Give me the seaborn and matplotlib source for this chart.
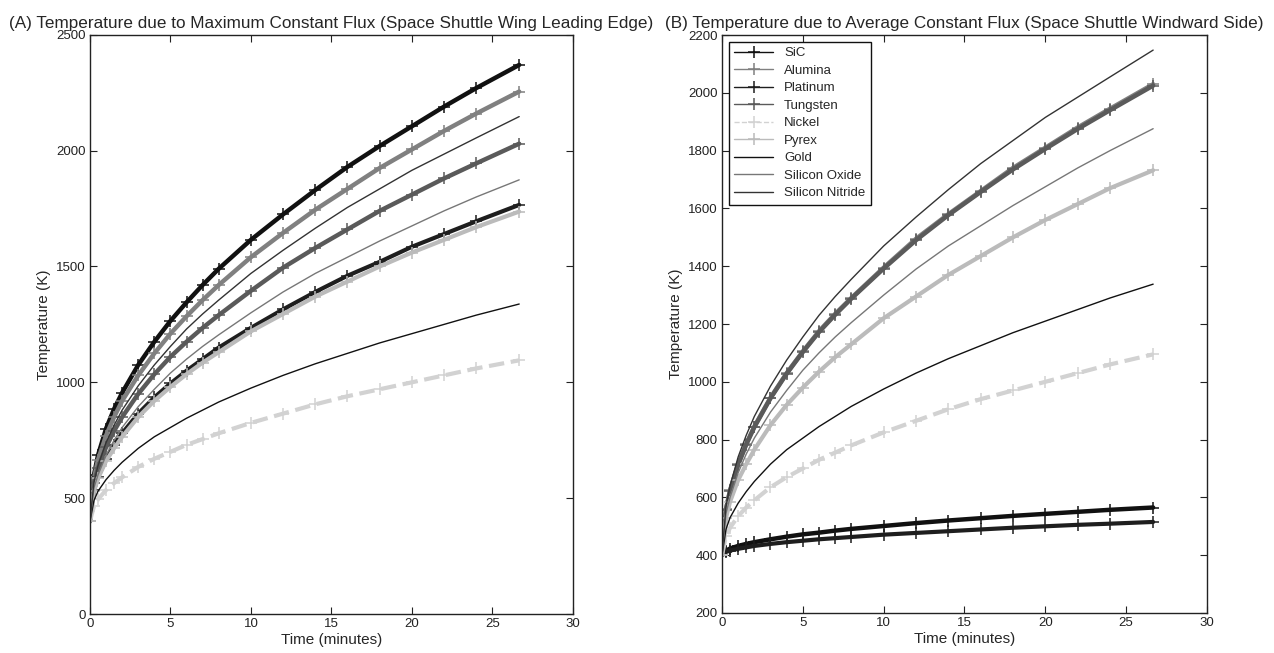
import matplotlib
matplotlib.use("Agg")
import matplotlib.pyplot as plt
import pandas as pd
import seaborn as sns

time_min = [0, 0.25, 0.5, 1, 1.5, 2, 3, 4, 5, 6, 7, 8, 10, 12, 14, 16, 18, 20,
            22, 24, 26.67]

materials = ["SiC", "Alumina", "Platinum", "Tungsten", "Nickel", "Pyrex",
             "Gold", "Silicon Oxide", "Silicon Nitride"]

# (A) maximum constant flux, temperature (K)
max_sic = [400, 600, 685, 800, 885, 955, 1075, 1175, 1265, 1345, 1420, 1490,
           1615, 1725, 1830, 1930, 2020, 2105, 2190, 2270, 2370]
max_alumina = [400, 585, 665, 770, 850, 920, 1030, 1125, 1210, 1285, 1355,
               1420, 1540, 1645, 1745, 1835, 1925, 2005, 2085, 2160, 2255]
max_platinum = [400, 535, 590, 670, 730, 780, 865, 935, 995, 1050, 1100, 1150,
                1235, 1315, 1390, 1460, 1520, 1585, 1640, 1695, 1766]
max_tungsten = [400, 565, 630, 720, 790, 850, 950, 1035, 1110, 1175, 1235,
                1290, 1395, 1495, 1580, 1660, 1740, 1810, 1880, 1945, 2030]
max_nickel = [400, 465, 495, 535, 565, 590, 635, 670, 700, 730, 755, 780, 825,
              865, 905, 940, 970, 1000, 1030, 1060, 1095]
max_pyrex = [400, 530, 585, 660, 715, 765, 850, 920, 980, 1035, 1085, 1130,
             1220, 1295, 1370, 1435, 1500, 1560, 1615, 1670, 1737]
max_gold = [400, 490, 530, 580, 620, 655, 715, 765, 805, 845, 880, 915, 975,
            1030, 1080, 1125, 1170, 1210, 1250, 1290, 1338]
max_sio = [400, 545, 600, 685, 750, 805, 895, 970, 1040, 1100, 1155, 1205,
           1300, 1390, 1470, 1540, 1610, 1675, 1740, 1800, 1874]
max_sin = [400, 570, 640, 740, 815, 880, 985, 1075, 1155, 1230, 1295, 1355,
           1470, 1570, 1665, 1755, 1835, 1915, 1985, 2055, 2147]

# (B) average constant flux, temperature (K)
avg_sic = [400, 416, 423, 432, 439, 445, 455, 464, 472, 478, 485, 491, 501,
           511, 520, 528, 536, 543, 550, 557, 565]
avg_alumina = [400, 560, 625, 715, 785, 845, 945, 1030, 1105, 1175, 1235,
               1290, 1395, 1495, 1580, 1660, 1740, 1810, 1880, 1945, 2030]
avg_platinum = [400, 411, 416, 422, 427, 432, 439, 445, 450, 455, 459, 463,
                471, 477, 483, 489, 495, 500, 505, 509, 515]
avg_tungsten = [400, 558, 623, 713, 783, 843, 943, 1028, 1103, 1172, 1232,
                1288, 1392, 1490, 1577, 1657, 1735, 1806, 1875, 1940, 2025]
avg_nickel = [400, 465, 495, 535, 565, 590, 635, 670, 700, 730, 755, 780, 825,
              865, 905, 940, 970, 1000, 1030, 1060, 1095]
avg_pyrex = [400, 530, 585, 660, 715, 765, 850, 920, 980, 1035, 1085, 1130,
             1220, 1295, 1370, 1435, 1500, 1560, 1615, 1670, 1732]
avg_gold = [400, 490, 530, 580, 620, 655, 715, 765, 805, 845, 880, 915, 975,
            1030, 1080, 1125, 1170, 1210, 1250, 1290, 1338]
avg_sio = [400, 545, 600, 685, 750, 805, 895, 970, 1040, 1100, 1155, 1205,
           1300, 1390, 1470, 1540, 1610, 1675, 1740, 1800, 1876]
avg_sin = [400, 570, 640, 740, 815, 880, 985, 1075, 1155, 1230, 1295, 1355,
           1470, 1570, 1665, 1755, 1835, 1915, 1985, 2055, 2148]

max_series = [max_sic, max_alumina, max_platinum, max_tungsten, max_nickel,
              max_pyrex, max_gold, max_sio, max_sin]
avg_series = [avg_sic, avg_alumina, avg_platinum, avg_tungsten, avg_nickel,
              avg_pyrex, avg_gold, avg_sio, avg_sin]

# line styles, in the order of the materials list
styles = {
    "SiC": dict(color="#111111", marker="+", lw=3.2, ls="-"),
    "Alumina": dict(color="#808080", marker="+", lw=3.2, ls="-"),
    "Platinum": dict(color="#1e1e1e", marker="+", lw=3.0, ls="-"),
    "Tungsten": dict(color="#5a5a5a", marker="+", lw=3.2, ls="-"),
    "Nickel": dict(color="#d2d2d2", marker="+", lw=3.0, ls="--"),
    "Pyrex": dict(color="#bbbbbb", marker="+", lw=3.0, ls="-"),
    "Gold": dict(color="#111111", marker=None, lw=1.0, ls="-"),
    "Silicon Oxide": dict(color="#777777", marker=None, lw=1.0, ls="-"),
    "Silicon Nitride": dict(color="#333333", marker=None, lw=1.0, ls="-"),
}

sns.set_theme(style="white")
plt.rcParams["font.family"] = ["Liberation Sans", "DejaVu Sans"]
plt.rcParams.update({
    "xtick.direction": "in",
    "ytick.direction": "in",
    "xtick.top": True,
    "ytick.right": True,
    "xtick.major.size": 5,
    "ytick.major.size": 5,
    "xtick.major.width": 0.8,
    "ytick.major.width": 0.8,
    "xtick.bottom": True,
    "ytick.left": True,
})

fig = plt.figure(figsize=(12.74, 6.53), dpi=100)
ax1 = fig.add_axes([0.0706, 0.0597, 0.379, 0.887])
ax2 = fig.add_axes([0.5667, 0.0613, 0.3807, 0.885])


def draw_panel(ax, series, title, ylim, yticks):
    for name, values in zip(materials, series):
        st = styles[name]
        df = pd.DataFrame({"t": time_min, "T": values})
        sns.lineplot(
            data=df,
            x="t",
            y="T",
            ax=ax,
            color=st["color"],
            linewidth=st["lw"],
            linestyle=st["ls"],
            marker=st["marker"],
            markersize=8,
            markeredgewidth=1.1,
            markeredgecolor=st["color"],
            label=name,
        )
    ax.set_xlim(0, 30)
    ax.set_ylim(*ylim)
    ax.set_xticks([0, 5, 10, 15, 20, 25, 30])
    ax.set_yticks(yticks)
    ax.set_xlabel("Time (minutes)", fontsize=11, labelpad=2)
    ax.set_ylabel("Temperature (K)", fontsize=11, labelpad=4)
    ax.set_title(title, fontsize=12.3, pad=5)
    ax.tick_params(labelsize=9.5, colors="#222222", pad=3)
    for sp in ax.spines.values():
        sp.set_color("#222222")
        sp.set_linewidth(1.0)


draw_panel(
    ax1, max_series,
    "(A) Temperature due to Maximum Constant Flux "
    "(Space Shuttle Wing Leading Edge)",
    (0, 2500), [0, 500, 1000, 1500, 2000, 2500],
)
ax1.get_legend().remove()

draw_panel(
    ax2, avg_series,
    "(B) Temperature due to Average Constant Flux "
    "(Space Shuttle Windward Side)",
    (200, 2200), list(range(200, 2201, 200)),
)
leg = ax2.legend(
    loc="upper left",
    fontsize=9.5,
    frameon=True,
    fancybox=False,
    edgecolor="#111111",
    framealpha=1,
    handlelength=3,
    labelspacing=0.4,
    borderaxespad=0.5,
)
leg.get_frame().set_linewidth(1.0)
for h in leg.get_lines():
    h.set_linewidth(1.0)

fig.savefig("out.png", dpi=100)
